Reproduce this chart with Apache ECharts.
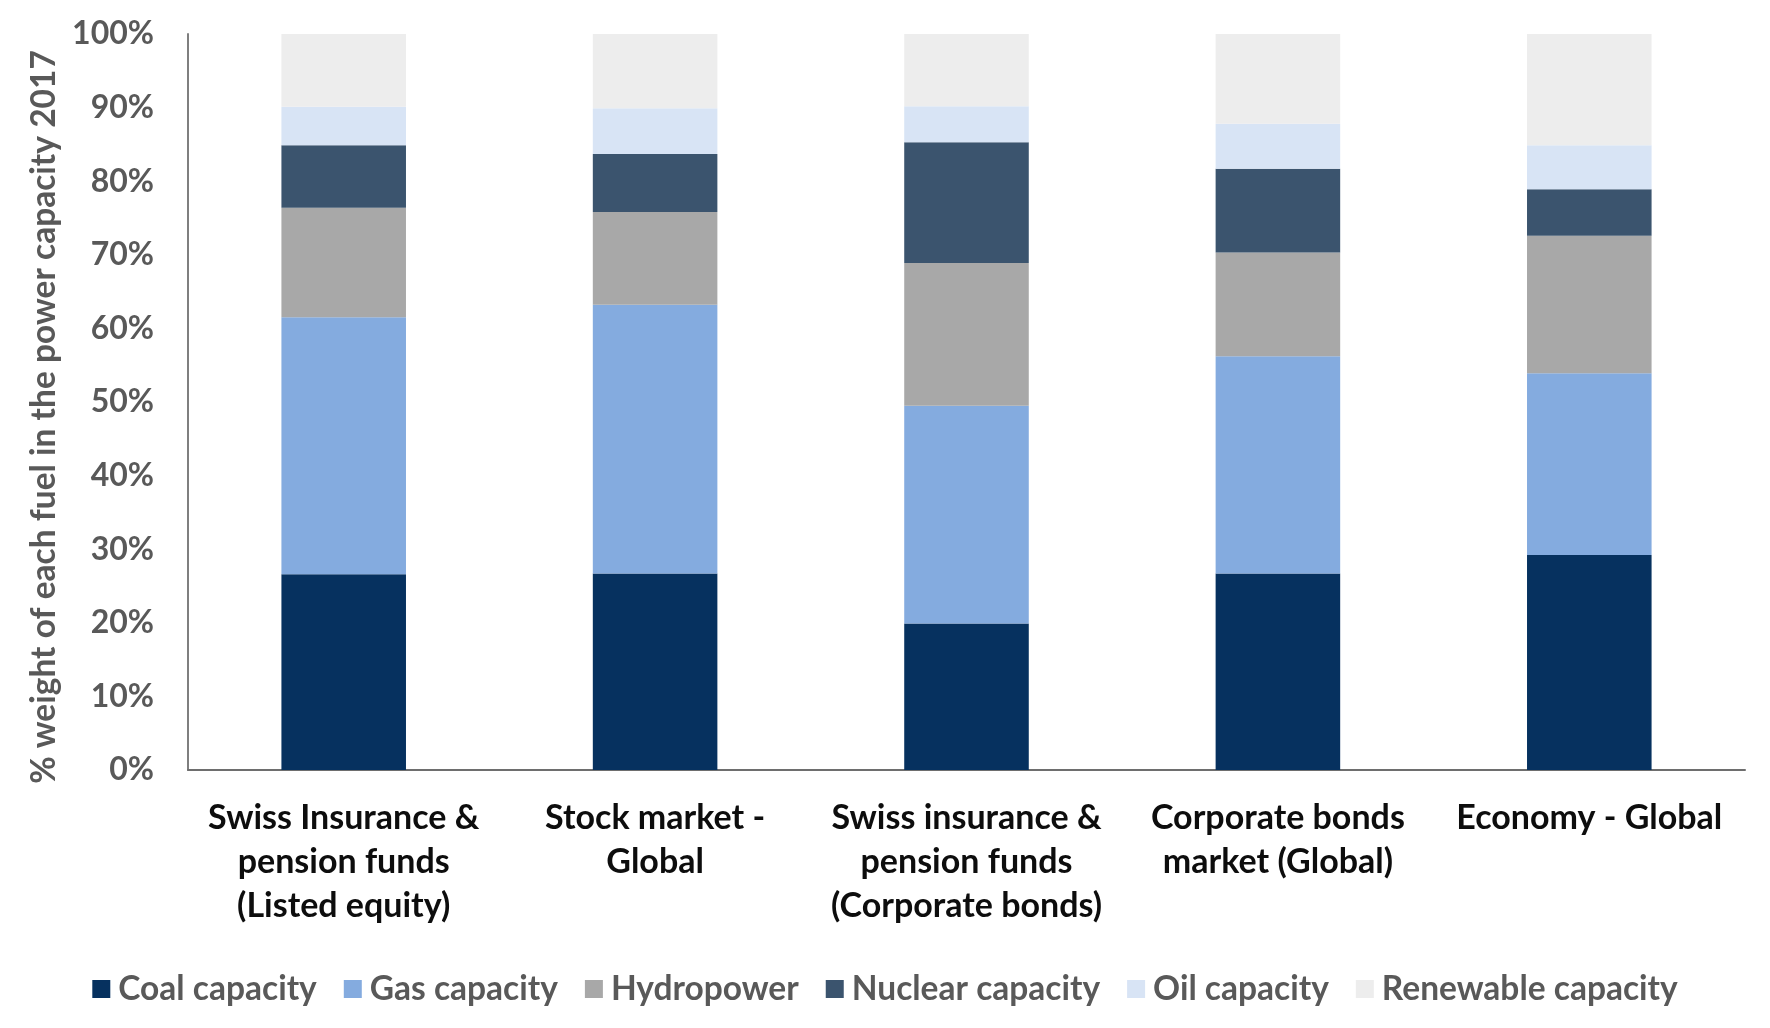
<!DOCTYPE html>
<html>
<head>
<meta charset="utf-8">
<script src="https://cdn.jsdelivr.net/npm/echarts@6/dist/echarts.min.js"></script>
<style>
html,body{margin:0;padding:0;background:#fff;}
#chart{width:1770px;height:1028px;}
</style>
</head>
<body>
<div id="chart"></div>
<script>
const categories = [
  'Swiss Insurance &\npension funds\n(Listed equity)',
  'Stock market -\nGlobal',
  'Swiss insurance &\npension funds\n(Corporate bonds)',
  'Corporate bonds\nmarket (Global)',
  'Economy - Global'
];
const seriesNames = ['Coal capacity', 'Gas capacity', 'Hydropower', 'Nuclear capacity', 'Oil capacity', 'Renewable capacity'];
const coal      = [26.6, 26.7, 19.9, 26.7, 29.2];
const gas       = [34.9, 36.5, 29.6, 29.5, 24.7];
const hydro     = [14.9, 12.6, 19.4, 14.1, 18.7];
const nuclear   = [8.5, 7.9, 16.4, 11.4, 6.3];
const oil       = [5.2, 6.2, 4.9, 6.1, 6.0];
const renewable = [9.9, 10.1, 9.8, 12.2, 15.1];
const colors = ['#06315f', '#84abdf', '#a8a8a8', '#3b546e', '#d8e4f5', '#ededed'];
const yTicks = [0, 10, 20, 30, 40, 50, 60, 70, 80, 90, 100];

const values = [coal, gas, hydro, nuclear, oil, renewable];
const FONT = 'Lato, "Open Sans", sans-serif';

const chart = echarts.init(document.getElementById('chart'), null, {renderer: 'canvas'});
chart.setOption({
  backgroundColor: '#ffffff',
  animation: false,
  color: colors,
  grid: {left: 188, right: 25, top: 34, bottom: 258, containLabel: false},
  legend: {
    data: seriesNames,
    top: 967,
    left: 'center',
    icon: 'rect',
    itemWidth: 18,
    itemHeight: 18,
    itemGap: 27,
    textStyle: {fontFamily: FONT, fontSize: 33.5, fontWeight: 'bold', color: '#595959', padding: [0, 0, 0, 3]}
  },
  xAxis: {
    type: 'category',
    data: categories,
    axisLine: {show: true, lineStyle: {color: '#6e6e6e', width: 2}},
    axisTick: {show: false},
    axisLabel: {
      interval: 0,
      margin: 26,
      fontFamily: FONT,
      fontWeight: 'bold',
      fontSize: 34,
      lineHeight: 44,
      color: '#0d0d0d'
    }
  },
  yAxis: {
    type: 'value',
    min: yTicks[0],
    max: yTicks[yTicks.length - 1],
    interval: 10,
    name: '% weight of each fuel in the power capacity 2017',
    nameLocation: 'middle',
    nameGap: 127,
    nameTextStyle: {fontFamily: FONT, fontSize: 33.5, fontWeight: 'bold', color: '#595959', padding: [0, 30, 0, 0]},
    splitLine: {show: false},
    axisTick: {show: false},
    axisLine: {show: true, lineStyle: {color: '#7f7f7f', width: 2}},
    axisLabel: {
      margin: 34,
      fontFamily: FONT,
      fontWeight: 'bold',
      fontSize: 32,
      color: '#595959',
      formatter: '{value}%'
    }
  },
  series: seriesNames.map((name, i) => ({
    name: name,
    type: 'bar',
    stack: 'total',
    barWidth: '40%',
    data: values[i],
    itemStyle: {color: colors[i]}
  }))
});
</script>
</body>
</html>
